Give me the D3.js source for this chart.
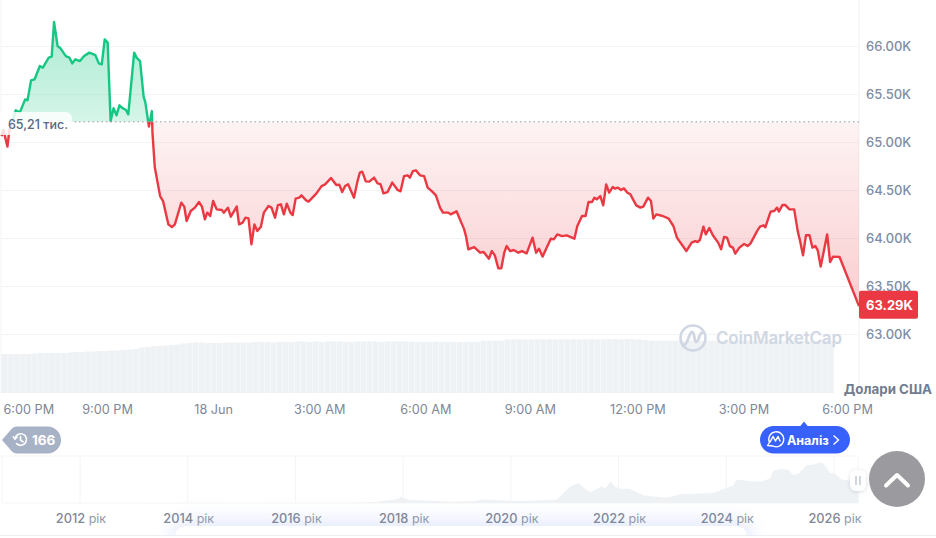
<!DOCTYPE html>
<html>
<head>
<meta charset="utf-8">
<script src="https://cdn.jsdelivr.net/npm/d3@7"></script>
<style>
html, body { margin: 0; padding: 0; background: #fff; overflow: hidden; }
svg { display: block; }
text { font-family: Inter, "Noto Sans", sans-serif; }
</style>
</head>
<body>
<svg id="chart" width="936" height="538"></svg>
<script>
// minutes after 6:00 PM on 17 Jun
const minutes = [1,4,11,14,25,32,41,45,51,57,66,71,81,86,90,96,101,110,116,121,126,134,141,150,160,166,171,176,181,186,191,196,201,205,212,216,226,230,236,242,245,251,256,257,261,270,275,284,290,295,306,311,315,322,329,336,341,346,350,355,360,366,375,378,385,390,400,404,410,415,420,425,430,435,441,446,454,459,465,470,475,480,485,491,495,500,506,510,517,522,535,544,550,560,569,574,579,584,589,599,605,609,613,619,625,633,639,644,649,656,664,673,678,684,690,694,699,704,711,718,724,731,738,745,750,759,763,773,786,789,793,803,813,819,828,833,838,844,849,854,858,864,870,878,884,892,902,908,913,919,933,938,944,952,960,973,978,986,992,997,1003,1007,1011,1017,1022,1027,1032,1038,1042,1047,1052,1057,1063,1068,1078,1085,1090,1098,1103,1107,1112,1123,1133,1141,1147,1163,1172,1178,1182,1186,1192,1196,1202,1208,1217,1222,1227,1232,1237,1242,1246,1253,1261,1267,1272,1283,1288,1294,1297,1306,1312,1317,1320,1326,1331,1338,1346,1352,1356,1361,1366,1372,1377,1382,1386,1391,1402,1407,1412,1423,1456]
const prices = [65.062,65.125,64.952,65.114,65.33,65.309,65.444,65.434,65.642,65.653,65.791,65.775,65.879,65.889,66.25,66,65.976,65.895,65.879,65.819,65.861,65.843,65.895,65.931,65.906,65.819,65.809,66.069,66.035,65.218,65.351,65.278,65.382,65.358,65.333,65.288,65.931,65.879,65.843,65.472,65.41,65.16,65.322,65.101,64.736,64.437,64.385,64.142,64.114,64.142,64.368,64.327,64.177,64.281,64.316,64.375,64.327,64.194,64.264,64.229,64.385,64.298,64.291,64.264,64.316,64.222,64.327,64.142,64.16,64.212,64.205,63.934,64.142,64.072,64.118,64.264,64.333,64.316,64.212,64.343,64.351,64.246,64.358,64.264,64.239,64.41,64.42,64.444,64.395,64.379,64.462,64.541,64.559,64.625,64.552,64.556,64.479,64.541,64.559,64.42,64.593,64.681,64.691,64.59,64.587,64.629,64.569,64.562,64.465,64.479,64.577,64.5,64.486,64.645,64.653,64.629,64.697,64.705,64.653,64.645,64.525,64.489,64.444,64.316,64.264,64.264,64.246,64.278,64.09,64.02,63.882,63.906,63.847,63.854,63.785,63.864,63.819,63.684,63.684,63.847,63.916,63.864,63.875,63.847,63.864,63.84,64.004,63.847,63.889,63.806,63.993,63.986,64.038,64.02,64.028,63.993,64.125,64.229,64.229,64.375,64.375,64.42,64.403,64.437,64.34,64.559,64.472,64.531,64.514,64.525,64.5,64.517,64.472,64.455,64.34,64.316,64.327,64.42,64.385,64.202,64.246,64.229,64.202,64.125,64.004,63.864,63.952,63.968,63.958,63.979,64.118,64.038,64.104,64.028,63.952,63.882,64.01,64.004,63.916,63.9,63.837,63.9,63.937,63.916,63.944,64.072,64.118,64.132,64.111,64.275,64.281,64.316,64.275,64.343,64.343,64.298,64.298,64.072,63.968,63.819,64.028,64.028,63.9,63.916,63.871,63.702,64.038,63.75,63.806,63.802,63.29]
const basePrice = 65.21
const lastPrice = 63.29

// one bar per 10 minutes
const volumes = [39,39,39,39,39,39.5,40,40,40,40,40,40.5,41,41,41.5,41.5,42,42,42.5,42.5,43,43.5,44,45.5,46,47,47,47.5,48,48.5,49.5,50,50.5,50.5,50,50,50,50.5,50.5,50.5,50.5,50.5,51,51,51,50.5,51,51,51,51.5,51.5,51,51.5,51,51.5,51.5,51.5,51,51,51.5,51.5,51.5,51.5,51,51.5,51.5,51.5,51.5,51.3,51.3,51.3,51.3,51.3,51.3,51.3,51.3,51,51.3,51.3,51.3,52.3,52.3,52.3,52.3,53.5,53.7,53.7,53.5,53.7,53.7,53.7,53.7,53.7,53.7,53.7,53.7,53.7,53.7,53.9,53.7,53.7,54,53.8,53.7,54,53.8,53.6,53,52.5,52.3,52.3,52.4,52.3,52.3,52.3,52.5,52.3,52.3,52.4,52.3,52.3,52.3,52.4,52.3,52.3,52.3,52.3,52.3,52.4,52.3,52.3,52.3,52.3,52.3,52.3,52.3,52.3,52.3,52.3]

const priceTicks = [63, 63.5, 64, 64.5, 65, 65.5, 66]
const timeTicks = [0, 180, 360, 540, 720, 900, 1080, 1260, 1440]
const timeLabels = ['6:00 PM', '9:00 PM', '18 Jun', '3:00 AM', '6:00 AM', '9:00 AM', '12:00 PM', '3:00 PM', '6:00 PM']

// overview, price in thousands by year
const navYears = [2011.5,2012,2013,2014,2015,2016,2017,2017.5,2017.9,2017.96,2018.1,2018.5,2018.9,2019.3,2019.5,2019.9,2020.2,2020.54,2020.85,2020.97,2021.1,2021.25,2021.38,2021.47,2021.56,2021.69,2021.75,2021.85,2021.93,2022.03,2022.18,2022.3,2022.46,2022.71,2022.89,2023.14,2023.51,2023.76,2024,2024.13,2024.19,2024.38,2024.63,2024.81,2024.87,2025,2025.15,2025.24,2025.34,2025.49,2025.65,2025.77,2025.86,2025.92,2026.02,2026.14,2026.27,2026.45]
const navPrices = [0,0,0.1,0.8,0.3,0.4,1,3,12,19,9,7,4,5,11,7.5,6,8,10,29,51,61,44,34,39,52,44,67,51,44,44,37,24,19,16,27,29,31,46,54,72,68,65,75,98,105,102,87,90,116,119,126,111,92,90,72,70,63]
const navTicks = [2012, 2014, 2016, 2018, 2020, 2022, 2024, 2026]

const plotLeft = 1, plotRight = 859
const svg = d3.select('#chart')
const defs = svg.append('defs')

const x = d3.scaleLinear().domain([0, 1456]).range([1, plotRight])
const y = d3.scaleLinear().domain([63, 66]).range([334, 46])
const yVol = d3.scaleLinear().domain([0, 60]).range([393, 333])
const xVol = d3.scaleBand().domain(d3.range(volumes.length)).range([1, 834]).padding(0.05)
const xNav = d3.scaleLinear().domain([2012, 2026]).range([80, 834])
const yNav = d3.scaleLinear().domain([0, 126]).range([503, 462])
const baseY = y(basePrice)

// soft glow of the card under the chart
defs.append('filter').attr('id', 'glow').attr('x', '-20%').attr('y', '-100%').attr('width', '140%').attr('height', '300%')
    .append('feGaussianBlur').attr('stdDeviation', 9)
defs.append('filter').attr('id', 'handleShadow').attr('x', '-50%').attr('y', '-50%').attr('width', '200%').attr('height', '200%')
    .append('feDropShadow').attr('dx', 0).attr('dy', 1).attr('stdDeviation', 2).attr('flood-color', '#8a94a6').attr('flood-opacity', 0.35)
svg.append('rect').attr('x', 172).attr('y', 520).attr('width', 580).attr('height', 30).attr('rx', 14)
    .attr('fill', '#e4eafd').attr('filter', 'url(#glow)')
svg.append('rect').attr('x', 175).attr('y', 526).attr('width', 572).attr('height', 24).attr('rx', 10).attr('fill', '#fff')
svg.append('rect').attr('x', 0).attr('y', 535).attr('width', 936).attr('height', 3).attr('fill', '#fff')
svg.append('line').attr('x1', 0).attr('x2', 936).attr('y1', 535.5).attr('y2', 535.5).attr('stroke', '#eceef2')

// gradients and clips for the two sides of the base price
const gradGreen = defs.append('linearGradient').attr('id', 'gradGreen').attr('gradientUnits', 'userSpaceOnUse')
    .attr('x1', 0).attr('x2', 0).attr('y1', 22).attr('y2', baseY)
gradGreen.append('stop').attr('offset', 0).attr('stop-color', '#16c784').attr('stop-opacity', 0.36)
gradGreen.append('stop').attr('offset', 1).attr('stop-color', '#16c784').attr('stop-opacity', 0.18)
const gradRed = defs.append('linearGradient').attr('id', 'gradRed').attr('gradientUnits', 'userSpaceOnUse')
    .attr('x1', 0).attr('x2', 0).attr('y1', baseY).attr('y2', 305)
gradRed.append('stop').attr('offset', 0).attr('stop-color', '#ea3943').attr('stop-opacity', 0.06)
gradRed.append('stop').attr('offset', 1).attr('stop-color', '#ea3943').attr('stop-opacity', 0.25)
defs.append('clipPath').attr('id', 'clipUp').append('rect')
    .attr('x', 0).attr('y', 0).attr('width', plotRight).attr('height', baseY)
defs.append('clipPath').attr('id', 'clipDown').append('rect')
    .attr('x', 0).attr('y', baseY).attr('width', plotRight).attr('height', 400 - baseY)

// frame and grid
svg.append('line').attr('x1', plotLeft).attr('x2', plotLeft).attr('y1', 0).attr('y2', 393).attr('stroke', '#f3f4f6')
svg.append('line').attr('x1', plotRight).attr('x2', plotRight).attr('y1', 0).attr('y2', 393).attr('stroke', '#eff1f4')
svg.append('g').selectAll('line').data(priceTicks).join('line')
    .attr('x1', plotLeft).attr('x2', plotRight)
    .attr('y1', d=>y(d)+0.5).attr('y2', d=>y(d)+0.5)
    .attr('stroke', '#f3f4f6').attr('stroke-width', 1.2)

// volume
svg.append('g').selectAll('rect').data(volumes).join('rect')
    .attr('x', (d, i)=>xVol(i))
    .attr('y', d=>yVol(d))
    .attr('width', xVol.bandwidth())
    .attr('height', d=>yVol(0) - yVol(d))
    .attr('fill', '#eff2f5')

// price
const points = minutes.map((m, i)=>[m, prices[i]])
const area = d3.area().x(d=>x(d[0])).y0(baseY).y1(d=>y(d[1]))
const line = d3.line().x(d=>x(d[0])).y(d=>y(d[1]))
svg.append('path').attr('d', area(points)).attr('fill', 'url(#gradGreen)').attr('clip-path', 'url(#clipUp)')
svg.append('path').attr('d', area(points)).attr('fill', 'url(#gradRed)').attr('clip-path', 'url(#clipDown)')
svg.append('path').attr('d', line(points)).attr('fill', 'none').attr('stroke', '#16c784').attr('stroke-width', 2.4)
    .attr('stroke-linejoin', 'round').attr('clip-path', 'url(#clipUp)')
svg.append('path').attr('d', line(points)).attr('fill', 'none').attr('stroke', '#ea3943').attr('stroke-width', 2.4)
    .attr('stroke-linejoin', 'round').attr('clip-path', 'url(#clipDown)')

// base price line and label
svg.append('line').attr('x1', 70).attr('x2', plotRight).attr('y1', baseY).attr('y2', baseY)
    .attr('stroke', '#8f9bb0').attr('stroke-width', 1).attr('stroke-dasharray', '1.5 3')
svg.append('path').attr('d', 'M0,112H66a6,6 0 0 1 6,6V135H0Z').attr('fill', '#fff').attr('fill-opacity', 0.82)
svg.append('text').attr('x', 8).attr('y', 129).attr('font-size', 12.5).attr('font-weight', 500).attr('fill', '#58667e').text('65,21 тис.')

// watermark
const mark = svg.append('g').attr('fill', 'none').attr('stroke', '#d0d7e3').attr('stroke-width', 2.6)
mark.append('circle').attr('cx', 693).attr('cy', 338).attr('r', 12.5)
mark.append('path').attr('d', 'M684,345C688,345 689,332 692,332C695,332 694,342 696,342C699,342 699,333 702,333')
    .attr('stroke-linecap', 'round').attr('stroke-width', 2.8)
svg.append('text').attr('x', 716).attr('y', 344).attr('font-size', 17).attr('font-weight', 600)
    .attr('fill', '#d0d7e3').attr('textLength', 126).text('CoinMarketCap')

// price axis
const axisRight = d3.axisRight(y).tickValues(priceTicks).tickSize(0).tickPadding(0).tickFormat(d=>d3.format('.2f')(d) + 'K')
const gy = svg.append('g').attr('transform', 'translate(866,0)').call(axisRight)
gy.select('.domain').remove()
gy.selectAll('text').attr('font-family', 'Inter').attr('font-size', 13).attr('font-weight', 500).attr('fill', '#7e8ca3')
    .attr('x', 0).attr('dy', '0.32em')

svg.append('rect').attr('x', plotRight).attr('y', y(lastPrice) - 15.5).attr('width', 59).attr('height', 28).attr('rx', 2).attr('fill', '#ea3943')
svg.append('text').attr('x', 866).attr('y', y(lastPrice) - 0.8).attr('dy', '0.35em')
    .attr('font-size', 13).attr('font-weight', 700).attr('fill', '#fff').text(d3.format('.2f')(lastPrice) + 'K')
svg.append('text').attr('x', 932).attr('y', 394).attr('text-anchor', 'end').attr('font-size', 13.3).attr('font-weight', 700)
    .attr('fill', '#707c90').text('Долари США')

// time axis, the first and last labels are pushed inside the plot
const axisBottom = d3.axisBottom(x).tickValues(timeTicks).tickSize(0).tickFormat((d, i)=>timeLabels[i])
const gx = svg.append('g').attr('transform', 'translate(0,404)').call(axisBottom)
gx.select('.domain').remove()
gx.selectAll('text').attr('font-family', 'Inter').attr('font-size', 12.7).attr('fill', '#7e8798').attr('y', 0).attr('dy', '0.8em')
gx.selectAll('.tick').filter(d=>d === 0).select('text').attr('text-anchor', 'start').attr('x', 2)
gx.selectAll('.tick').filter(d=>d === 900).select('text').attr('x', -1.5)
gx.selectAll('.tick').filter(d=>d === 1440).select('text').attr('x', -2.5)

// history badge
svg.append('path').attr('d', 'M2,440L12,428.5Q14,426.5 17,426.5H47.5a13.5,13.5 0 0 1 0,27H17Q14,453.5 12,451.5Z').attr('fill', '#a7b2c7')
const clock = svg.append('g').attr('fill', 'none').attr('stroke', '#fff').attr('stroke-width', 1.6).attr('stroke-linecap', 'round')
clock.append('path').attr('d', 'M15,438.5A5.8,5.8 0 1 1 16.6,443.6')
clock.append('path').attr('d', 'M13.2,436.8L15,439L17,437.2')
clock.append('path').attr('d', 'M20.5,436.5V440L23.2,441.8')
svg.append('text').attr('x', 32).attr('y', 445).attr('font-size', 13.5).attr('font-weight', 700).attr('fill', '#fff').text('166')

// analysis button
svg.append('path').attr('d', 'M800,426.5L804,421.5L808,426.5Z').attr('fill', '#3861fb')
svg.append('rect').attr('x', 760).attr('y', 426).attr('width', 90).attr('height', 27.5).attr('rx', 13.75).attr('fill', '#3861fb')
const chat = svg.append('g').attr('fill', 'none').attr('stroke', '#fff').attr('stroke-linecap', 'round').attr('stroke-linejoin', 'round')
chat.append('path').attr('d', 'M767.5,445.5L769.5,442.5A7.5,7.5 0 1 1 773,446Z').attr('stroke-width', 1.3)
chat.append('path').attr('d', 'M770,442L773,436.5L775.5,441L778,436.5L780,441').attr('stroke-width', 1.5)
svg.append('text').attr('x', 787).attr('y', 444.5).attr('font-size', 12.5).attr('font-weight', 700).attr('fill', '#fff').text('Аналіз')
svg.append('path').attr('d', 'M833.5,435.5L838.5,440L833.5,444.5').attr('fill', 'none').attr('stroke', '#fff').attr('stroke-width', 1.4)

// overview
svg.append('rect').attr('x', 2).attr('y', 456).attr('width', 856).attr('height', 47).attr('fill', 'none').attr('stroke', '#f5f6f8')
svg.append('g').selectAll('line').data(navTicks).join('line')
    .attr('x1', d=>xNav(d)).attr('x2', d=>xNav(d)).attr('y1', 456).attr('y2', 503).attr('stroke', '#f3f4f6')
const navPoints = navYears.map((yr, i)=>[yr, navPrices[i]])
svg.append('path').attr('d', d3.area().x(d=>xNav(d[0])).y0(yNav(0)).y1(d=>yNav(d[1]))(navPoints)).attr('fill', '#eff2f5')
const navLabels = svg.append('g').selectAll('text').data(navTicks).join('text')
    .attr('x', d=>xNav(d)+1).attr('y', 523).attr('text-anchor', 'middle').attr('font-size', 12.8).attr('fill', '#7f889c')
navLabels.append('tspan').attr('font-weight', 500).text(d=>d)
navLabels.append('tspan').attr('font-size', 12.5).attr('fill', '#8f98aa').text(' рік')

// range handle
svg.append('rect').attr('x', 850).attr('y', 470).attr('width', 16).attr('height', 21).attr('rx', 6).attr('fill', '#fff').attr('filter', 'url(#handleShadow)')
svg.append('line').attr('x1', 856).attr('x2', 856).attr('y1', 476).attr('y2', 485).attr('stroke', '#b4bcc9').attr('stroke-width', 1.2)
svg.append('line').attr('x1', 860).attr('x2', 860).attr('y1', 476).attr('y2', 485).attr('stroke', '#b4bcc9').attr('stroke-width', 1.2)

// scroll to top button
svg.append('circle').attr('cx', 897).attr('cy', 479).attr('r', 28).attr('fill', '#9b9b9f')
svg.append('path').attr('d', 'M886,485.5L897,475L908,485.5').attr('fill', 'none').attr('stroke', '#fff')
    .attr('stroke-width', 4).attr('stroke-linecap', 'round').attr('stroke-linejoin', 'round')
</script>
</body>
</html>
